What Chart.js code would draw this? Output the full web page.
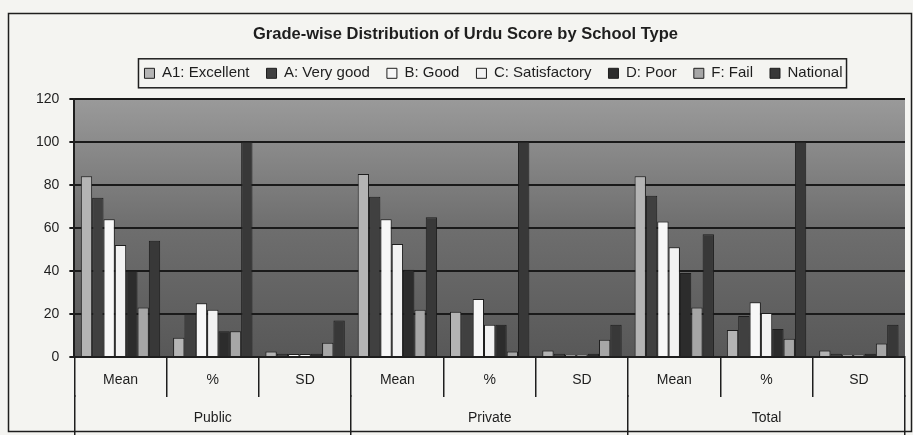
<!DOCTYPE html>
<html>
<head>
<meta charset="utf-8">
<script src="https://cdn.jsdelivr.net/npm/chart.js@4.4.1/dist/chart.umd.min.js"></script>
<style>
  html, body { margin: 0; padding: 0; background: #f4f4f1; }
  #wrap { position: relative; width: 913px; height: 435px; }
</style>
</head>
<body>
<div id="wrap"><canvas id="urdu_chart"></canvas></div>
<script>
// データ
const categories = ['Mean', '%', 'SD', 'Mean', '%', 'SD', 'Mean', '%', 'SD'];
const schoolTypes = ['Public', 'Private', 'Total'];
const yMin = 0, yMax = 120, yStep = 20;

const gradeA1 = [84, 9, 2.5, 85, 21, 3, 84, 12.5, 3];
const gradeA = [74, 20, 1.5, 74.5, 20, 1.5, 75, 19, 1.5];
const gradeB = [64, 25, 1.4, 64, 27, 1, 63, 25.5, 1];
const gradeC = [52, 22, 1.4, 52.5, 15, 1, 51, 20.5, 1];
const gradeD = [40, 12, 1.5, 40.5, 15, 1.5, 39, 13, 1.5];
const gradeF = [23, 12, 6.6, 22, 2.5, 8, 23, 8.5, 6.3];
const national = [54, 100, 17, 65, 100, 15, 57, 100, 15];

const ink = '#1e1e1e';
Chart.defaults.font.family = '"Liberation Sans", Arial, sans-serif';
Chart.defaults.color = ink;

// 背景・枠・凡例の囲み
const decor = {
  id: 'decor',
  afterLayout(chart) {
    // 凡例を少し右・上へ
    const dx = 28, dy = -8;
    const lg = chart.legend;
    lg.left += dx;
    lg.right += dx;
    lg.top += dy;
    lg.bottom += dy;
    (lg.legendHitBoxes || []).forEach(b => { b.left += dx; });
  },
  beforeDraw(chart) {
    const ctx = chart.ctx;
    const a = chart.chartArea;
    ctx.save();
    const g = ctx.createLinearGradient(0, a.top, 0, a.bottom);
    g.addColorStop(0, '#9a9a9a');
    g.addColorStop(0.5, '#6e6e6e');
    g.addColorStop(1, '#585858');
    ctx.fillStyle = g;
    ctx.fillRect(a.left, a.top, a.right - a.left, a.bottom - a.top);
    ctx.restore();
  },
  afterDraw(chart) {
    const ctx = chart.ctx;
    ctx.save();
    ctx.strokeStyle = ink;
    ctx.lineWidth = 1.5;
    ctx.strokeRect(8.5, 13.5, 903, 418);
    const boxes = chart.legend.legendHitBoxes;
    if (boxes && boxes.length) {
      const l = Math.min(...boxes.map(b => b.left)) - 6;
      const r = Math.max(...boxes.map(b => b.left + b.width)) + 4;
      const t = Math.min(...boxes.map(b => b.top)) - 7;
      const btm = Math.max(...boxes.map(b => b.top + b.height)) + 7;
      ctx.lineWidth = 1.5;
      ctx.strokeRect(l, t, r - l, btm - t);
    }
    ctx.restore();
  }
};

const ds = (label, data, bg) => ({
  label: label,
  data: data,
  backgroundColor: bg,
  borderColor: ink,
  borderWidth: 1,
  xAxisID: 'x'
});

new Chart(document.getElementById('urdu_chart'), {
  type: 'bar',
  data: {
    labels: categories,
    datasets: [
      ds('A1: Excellent', gradeA1, '#b4b4b4'),
      ds('A: Very good', gradeA, '#404040'),
      ds('B: Good', gradeB, '#f7f7f7'),
      ds('C: Satisfactory', gradeC, '#f2f2f2'),
      ds('D: Poor', gradeD, '#2c2c2c'),
      ds('F: Fail', gradeF, '#a6a6a6'),
      ds('National', national, '#383838')
    ]
  },
  plugins: [decor],
  options: {
    responsive: true,
    maintainAspectRatio: false,
    animation: false,
    datasets: { bar: { categoryPercentage: 0.86, barPercentage: 1.0 } },
    layout: { padding: { left: 26, right: 8, top: 16, bottom: 3 } },
    plugins: {
      title: {
        display: true,
        text: 'Grade-wise Distribution of Urdu Score by School Type',
        font: { size: 16.5, weight: 'bold' },
        color: ink,
        padding: { top: 9, bottom: 12 }
      },
      legend: {
        position: 'top',
        labels: {
          boxWidth: 10,
          boxHeight: 10,
          padding: 17,
          font: { size: 15 },
          color: ink
        }
      },
      tooltip: { enabled: false }
    },
    scales: {
      x: {
        type: 'category',
        position: 'bottom',
        grid: { offset: true, drawOnChartArea: false, tickLength: 40, color: ink, lineWidth: 1.5 },
        border: { display: true, color: ink, width: 2 },
        ticks: { padding: -25, font: { size: 14 }, color: ink },
        afterFit(scale) { scale.height = 38; }
      },
      x2: {
        type: 'category',
        position: 'bottom',
        labels: schoolTypes,
        grid: { offset: true, drawOnChartArea: false, tickLength: 40, color: ink, lineWidth: 1.5 },
        border: { display: false },
        ticks: { padding: -25, font: { size: 14 }, color: ink },
        afterFit(scale) { scale.height = 37; }
      },
      y: {
        min: yMin,
        max: yMax,
        ticks: { stepSize: yStep, padding: 10, font: { size: 14 }, color: ink },
        grid: { color: '#1a1a1a', lineWidth: 2, tickLength: 5 },
        border: { display: true, color: ink, width: 2 }
      }
    }
  }
});
</script>
</body>
</html>
